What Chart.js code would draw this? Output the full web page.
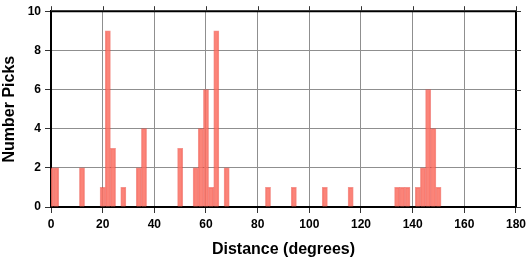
<!DOCTYPE html>
<html>
<head>
<meta charset="utf-8">
<script src="https://cdn.jsdelivr.net/npm/chart.js@4/dist/chart.umd.min.js"></script>
<style>
html,body{margin:0;padding:0;background:#fff;}
canvas{display:block;}
</style>
</head>
<body>
<canvas id="c" width="530" height="258"></canvas>
<script>
// Bin centers (degrees, 2-degree bins) and pick counts
const binCenters = [0, 2, 12, 20, 22, 24, 28, 34, 36, 50, 56, 58, 60, 62, 64, 68, 84, 94, 106, 116, 134, 136, 138, 142, 144, 146, 148, 150];
const pickCounts = [2, 2, 2, 1, 9, 3, 1, 2, 4, 3, 2, 4, 6, 1, 9, 2, 1, 1, 1, 1, 1, 1, 1, 1, 2, 6, 4, 1];
const xTickValues = [0, 20, 40, 60, 80, 100, 120, 140, 160, 180];
const yTickValues = [0, 2, 4, 6, 8, 10];
const xTitle = 'Distance (degrees)';
const yTitle = 'Number Picks';

const FONT = '"Liberation Sans", Arial, Helvetica, sans-serif';

const framePlugin = {
  id: 'frame',
  afterDraw(chart) {
    const {ctx, chartArea: a, scales} = chart;
    ctx.save();
    ctx.strokeStyle = '#000';
    ctx.lineWidth = 2;
    ctx.beginPath();
    ctx.moveTo(a.left, a.top);
    ctx.lineTo(a.right, a.top);
    ctx.lineTo(a.right, a.bottom);
    ctx.stroke();
    ctx.lineWidth = 1;
    ctx.strokeStyle = '#333';
    ctx.beginPath();
    scales.x.ticks.forEach(t => {
      const px = Math.round(scales.x.getPixelForValue(t.value)) + 0.5;
      ctx.moveTo(px, a.top);
      ctx.lineTo(px, a.top - 5);
    });
    scales.y.ticks.forEach(t => {
      const py = Math.round(scales.y.getPixelForValue(t.value)) + 0.5;
      ctx.moveTo(a.right, py);
      ctx.lineTo(a.right + 5, py);
    });
    ctx.stroke();
    ctx.restore();
  }
};

new Chart(document.getElementById('c'), {
  type: 'bar',
  data: {
    datasets: [{
      data: binCenters.map((x, i) => ({x: x, y: pickCounts[i]})),
      backgroundColor: 'rgba(250,110,98,0.85)',
      borderColor: 'rgba(235,60,50,0.55)',
      borderWidth: 1,
      barPercentage: 1,
      categoryPercentage: 1,
      grouped: false
    }]
  },
  plugins: [framePlugin],
  options: {
    responsive: false,
    devicePixelRatio: 1,
    animation: false,
    layout: {padding: {left: 0, right: 12, top: 6, bottom: 0}},
    plugins: {legend: {display: false}, tooltip: {enabled: false}},
    scales: {
      x: {
        type: 'linear',
        min: 0,
        max: 180,
        offset: false,
        afterBuildTicks(scale) { scale.ticks = xTickValues.map(v => ({value: v})); },
        afterFit(scale) { scale.height = 51; },
        ticks: {
          stepSize: 20,
          color: '#000',
          padding: 4,
          maxRotation: 0,
          font: {family: FONT, size: 12, weight: 'bold'}
        },
        grid: {offset: false, color: '#8f8f8f', lineWidth: 1, tickLength: 6, tickColor: '#333', drawTicks: true},
        border: {display: true, color: '#000', width: 2},
        title: {
          display: true,
          text: xTitle,
          color: '#000',
          padding: {top: 0, bottom: -1},
          font: {family: FONT, size: 16, weight: 'bold'}
        }
      },
      y: {
        type: 'linear',
        min: 0,
        max: 10,
        afterBuildTicks(scale) { scale.ticks = yTickValues.map(v => ({value: v})); },
        afterFit(scale) { scale.width = 51; },
        ticks: {
          stepSize: 2,
          color: '#000',
          padding: 4,
          font: {family: FONT, size: 12, weight: 'bold'}
        },
        grid: {color: '#8f8f8f', lineWidth: 1, tickLength: 6, tickColor: '#333', drawTicks: true},
        border: {display: true, color: '#000', width: 2},
        title: {
          display: true,
          text: yTitle,
          color: '#000',
          padding: {top: 0, bottom: 0},
          font: {family: FONT, size: 16, weight: 'bold'}
        }
      }
    }
  }
});
</script>
</body>
</html>
